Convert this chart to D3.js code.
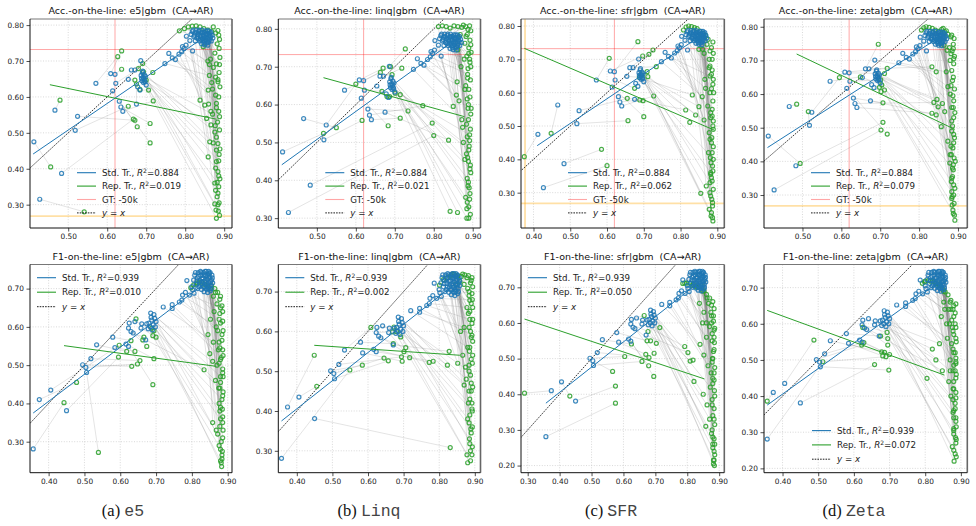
<!DOCTYPE html>
<html><head><meta charset="utf-8">
<script src="https://cdn.jsdelivr.net/npm/d3@7"></script>
<style>
body{margin:0;background:#fff;}
svg text{font-family:"DejaVu Sans",sans-serif;}
</style></head><body>
<svg id="fig" width="976" height="526"></svg>
<script>
// ---- data ----
// blue = standard training, one list per row, shared by the 4 panels of that row
const blueAcc = [
 [0.412,0.475],[0.427,0.315],[0.466,0.563],[0.483,0.387],[0.518,0.507],[0.524,0.546],[0.571,0.638],[0.609,0.665],[0.620,0.663],[0.614,0.617],[0.622,0.638],
 [0.631,0.588],[0.635,0.572],[0.640,0.560],[0.654,0.649],[0.662,0.675],[0.671,0.675],[0.675,0.580],[0.678,0.628],[0.686,0.701],[0.684,0.619],[0.697,0.642],
 [0.687,0.660],[0.690,0.668],[0.692,0.655],[0.694,0.650],[0.689,0.645],[0.695,0.662],[0.698,0.657],[0.700,0.633],[0.691,0.672],[0.696,0.645],[0.688,0.652],[0.693,0.640],
 [0.748,0.693],[0.758,0.721],[0.767,0.709],[0.775,0.704],[0.784,0.719],[0.791,0.726],[0.797,0.735],[0.802,0.744],[0.793,0.740],[0.803,0.769],[0.819,0.728],[0.812,0.757],
 [0.815,0.774],[0.818,0.782],[0.822,0.768],[0.825,0.778],[0.828,0.786],[0.830,0.764],[0.833,0.774],[0.835,0.782],[0.837,0.756],[0.839,0.768],[0.841,0.778],[0.843,0.786],
 [0.845,0.762],[0.846,0.772],[0.848,0.750],[0.849,0.780],[0.851,0.766],[0.853,0.758],[0.854,0.776],[0.856,0.784],[0.857,0.764],[0.859,0.752],[0.860,0.772],[0.862,0.760],
 [0.863,0.778],[0.865,0.766],[0.867,0.756],[0.869,0.772],[0.850,0.745],[0.842,0.748],[0.834,0.762],[0.826,0.756],[0.858,0.744],[0.871,0.764],
 [0.820,0.786],[0.824,0.772],[0.829,0.780],[0.832,0.768],[0.836,0.786],[0.838,0.772],[0.840,0.760],[0.844,0.780],[0.847,0.768],[0.849,0.756],
 [0.852,0.784],[0.853,0.772],[0.855,0.750],[0.857,0.776],[0.861,0.784],[0.861,0.756],[0.864,0.770],[0.866,0.780],[0.846,0.756],[0.851,0.762]
];
const blueF1 = [
 [0.357,0.281],[0.374,0.410],[0.406,0.435],[0.450,0.381],[0.495,0.501],[0.504,0.494],[0.506,0.481],[0.518,0.517],[0.534,0.553],[0.579,0.573],[0.585,0.546],
 [0.616,0.555],[0.623,0.549],[0.625,0.610],[0.623,0.597],[0.630,0.588],[0.636,0.584],[0.641,0.614],[0.660,0.608],[0.658,0.597],[0.671,0.566],[0.674,0.608],
 [0.685,0.636],[0.694,0.632],[0.700,0.614],[0.680,0.610],[0.688,0.618],[0.692,0.605],[0.684,0.600],[0.696,0.622],[0.678,0.595],[0.690,0.592],[0.698,0.600],[0.686,0.625],
 [0.720,0.652],[0.745,0.658],[0.745,0.648],[0.765,0.665],[0.772,0.670],[0.774,0.683],[0.793,0.683],[0.802,0.697],[0.786,0.721],[0.782,0.690],[0.800,0.705],[0.806,0.688],
 [0.805,0.722],[0.808,0.735],[0.812,0.712],[0.815,0.728],[0.818,0.742],[0.820,0.705],[0.822,0.720],[0.825,0.735],[0.827,0.698],[0.829,0.712],[0.831,0.728],[0.833,0.742],
 [0.835,0.705],[0.836,0.720],[0.838,0.734],[0.840,0.745],[0.841,0.710],[0.843,0.724],[0.845,0.738],[0.846,0.700],[0.848,0.716],[0.850,0.730],[0.851,0.742],[0.853,0.708],
 [0.855,0.722],[0.856,0.735],[0.834,0.692],[0.844,0.690],[0.824,0.745],[0.847,0.745],[0.858,0.715],[0.816,0.700],[0.839,0.700],[0.852,0.695],
 [0.810,0.742],[0.814,0.720],[0.819,0.732],[0.823,0.712],[0.826,0.742],[0.828,0.725],[0.832,0.704],[0.834,0.735],[0.837,0.745],[0.839,0.716],
 [0.842,0.732],[0.844,0.705],[0.847,0.728],[0.849,0.740],[0.852,0.718],[0.854,0.700],[0.857,0.728],[0.842,0.697],[0.830,0.718],[0.848,0.710]
];

// green = representation training, same order as the blue list (pairs are joined by grey lines)
const greenAccE5 = [
 [0.455,0.405],[0.541,0.280],[0.479,0.591],[0.667,0.538],[0.654,0.574],[0.671,0.535],[0.627,0.712],[0.637,0.728],[0.637,0.677],[0.677,0.517],[0.680,0.679],
 [0.710,0.472],[0.710,0.526],[0.718,0.589],[0.671,0.647],[0.691,0.693],[0.693,0.670],[0.675,0.636],[0.684,0.621],[0.717,0.668],[0.706,0.619],[0.700,0.647],
 [0.870,0.552],[0.876,0.502],[0.880,0.452],[0.878,0.402],[0.882,0.362],[0.884,0.332],[0.876,0.302],[0.885,0.282],[0.872,0.472],[0.886,0.422],[0.866,0.522],[0.880,0.262],
 [0.862,0.660],[0.870,0.622],[0.859,0.619],[0.880,0.582],[0.850,0.577],[0.884,0.642],[0.858,0.700],[0.872,0.682],[0.838,0.591],[0.855,0.540],[0.863,0.475],[0.859,0.433],
 [0.785,0.784],[0.798,0.790],[0.808,0.795],[0.818,0.797],[0.828,0.798],[0.838,0.795],[0.848,0.790],[0.858,0.786],[0.868,0.782],[0.878,0.778],[0.886,0.772],[0.888,0.760],
 [0.882,0.748],[0.887,0.735],[0.876,0.722],[0.889,0.710],[0.880,0.692],[0.887,0.668],[0.884,0.648],[0.889,0.628],[0.878,0.605],[0.886,0.560],[0.883,0.530],[0.888,0.508],
 [0.880,0.488],[0.887,0.440],[0.884,0.392],[0.889,0.372],[0.886,0.350],[0.882,0.322],[0.887,0.305],[0.879,0.285],[0.846,0.740],[0.865,0.705],
 [0.872,0.795],[0.884,0.785],[0.862,0.690],[0.888,0.690],[0.878,0.655],[0.868,0.640],[0.886,0.600],[0.880,0.570],[0.888,0.545],[0.877,0.520],
 [0.884,0.470],[0.889,0.455],[0.880,0.420],[0.886,0.380],[0.878,0.340],[0.884,0.300],[0.888,0.270],[0.876,0.360],[0.860,0.580],[0.866,0.560]
];
const greenAccLinq = [
 [0.517,0.524],[0.800,0.518],[0.550,0.539],[0.796,0.551],[0.616,0.558],[0.600,0.654],[0.663,0.685],[0.670,0.696],[0.689,0.700],[0.683,0.544],[0.667,0.635],
 [0.734,0.583],[0.772,0.597],[0.714,0.564],[0.680,0.621],[0.693,0.679],[0.718,0.696],[0.838,0.506],[0.687,0.621],[0.727,0.747],[0.714,0.626],[0.701,0.630],
 [0.842,0.318],[0.861,0.315],[0.885,0.300],[0.890,0.330],[0.882,0.355],[0.891,0.380],[0.886,0.405],[0.893,0.430],[0.880,0.455],[0.890,0.480],[0.876,0.500],[0.892,0.520],
 [0.872,0.560],[0.888,0.590],[0.865,0.610],[0.880,0.640],[0.860,0.660],[0.887,0.680],[0.870,0.700],[0.892,0.720],[0.858,0.625],[0.874,0.540],[0.884,0.470],[0.850,0.595],
 [0.812,0.806],[0.822,0.808],[0.832,0.806],[0.842,0.802],[0.852,0.808],[0.862,0.806],[0.872,0.804],[0.882,0.806],[0.892,0.808],[0.895,0.795],[0.886,0.785],[0.893,0.770],
 [0.880,0.762],[0.890,0.750],[0.896,0.738],[0.885,0.728],[0.893,0.712],[0.888,0.695],[0.894,0.665],[0.882,0.650],[0.893,0.620],[0.889,0.600],[0.895,0.575],[0.884,0.548],
 [0.892,0.505],[0.887,0.460],[0.894,0.440],[0.889,0.395],[0.893,0.365],[0.886,0.342],[0.894,0.310],[0.878,0.720],[0.868,0.785],[0.862,0.745],
 [0.876,0.810],[0.888,0.798],[0.883,0.780],[0.895,0.758],[0.890,0.735],[0.895,0.700],[0.887,0.670],[0.890,0.640],[0.886,0.615],[0.896,0.590],
 [0.889,0.560],[0.894,0.535],[0.886,0.515],[0.891,0.490],[0.889,0.450],[0.895,0.420],[0.888,0.385],[0.892,0.350],[0.885,0.325],[0.890,0.300]
];
const greenAccSfr = [
 [0.375,0.408],[0.600,0.381],[0.448,0.478],[0.585,0.430],[0.657,0.516],[0.655,0.583],[0.606,0.703],[0.697,0.710],[0.684,0.753],[0.700,0.528],[0.675,0.613],
 [0.698,0.576],[0.689,0.578],[0.727,0.590],[0.688,0.646],[0.714,0.715],[0.734,0.678],[0.814,0.548],[0.711,0.648],[0.725,0.728],[0.709,0.663],[0.695,0.653],
 [0.825,0.511],[0.841,0.533],[0.850,0.558],[0.864,0.518],[0.832,0.593],[0.855,0.298],[0.880,0.330],[0.885,0.280],[0.878,0.250],[0.887,0.225],[0.882,0.360],[0.889,0.400],
 [0.859,0.588],[0.868,0.613],[0.880,0.650],[0.874,0.560],[0.886,0.530],[0.878,0.480],[0.884,0.450],[0.876,0.420],[0.888,0.500],[0.880,0.680],[0.866,0.640],[0.890,0.600],
 [0.808,0.788],[0.815,0.797],[0.822,0.800],[0.830,0.798],[0.838,0.795],[0.845,0.792],[0.852,0.785],[0.860,0.778],[0.868,0.772],[0.875,0.760],[0.888,0.752],[0.884,0.735],
 [0.889,0.718],[0.864,0.718],[0.878,0.700],[0.886,0.668],[0.889,0.640],[0.884,0.612],[0.888,0.575],[0.882,0.540],[0.889,0.515],[0.885,0.465],[0.889,0.438],[0.883,0.390],
 [0.888,0.365],[0.884,0.345],[0.889,0.310],[0.882,0.290],[0.887,0.270],[0.884,0.240],[0.888,0.215],[0.870,0.320],[0.860,0.730],[0.850,0.730],
 [0.862,0.770],[0.872,0.745],[0.880,0.725],[0.886,0.700],[0.878,0.675],[0.884,0.655],[0.888,0.625],[0.880,0.600],[0.886,0.550],[0.882,0.525],
 [0.889,0.490],[0.880,0.460],[0.886,0.420],[0.881,0.405],[0.887,0.380],[0.882,0.355],[0.886,0.335],[0.880,0.300],[0.887,0.260],[0.883,0.230]
];
const greenAccZeta = [
 [0.494,0.394],[0.702,0.493],[0.485,0.570],[0.707,0.516],[0.515,0.548],[0.595,0.649],[0.649,0.651],[0.718,0.676],[0.711,0.661],[0.718,0.481],[0.701,0.642],
 [0.707,0.574],[0.838,0.575],[0.833,0.543],[0.704,0.627],[0.695,0.748],[0.833,0.681],[0.844,0.538],[0.698,0.620],[0.844,0.666],[0.702,0.607],[0.711,0.612],
 [0.846,0.584],[0.849,0.562],[0.860,0.572],[0.866,0.548],[0.857,0.503],[0.874,0.460],[0.880,0.420],[0.886,0.380],[0.883,0.340],[0.889,0.300],[0.885,0.270],[0.891,0.240],
 [0.870,0.666],[0.874,0.622],[0.880,0.600],[0.888,0.560],[0.884,0.520],[0.889,0.480],[0.882,0.445],[0.890,0.410],[0.879,0.395],[0.886,0.355],[0.892,0.320],[0.884,0.290],
 [0.806,0.790],[0.812,0.797],[0.818,0.800],[0.826,0.798],[0.834,0.795],[0.842,0.790],[0.850,0.786],[0.858,0.792],[0.866,0.785],[0.874,0.778],[0.882,0.770],[0.890,0.765],
 [0.888,0.748],[0.878,0.738],[0.885,0.728],[0.891,0.712],[0.880,0.700],[0.889,0.690],[0.886,0.640],[0.891,0.615],[0.889,0.580],[0.892,0.545],[0.886,0.505],[0.891,0.470],
 [0.887,0.440],[0.893,0.400],[0.888,0.375],[0.884,0.310],[0.890,0.275],[0.887,0.255],[0.892,0.225],[0.864,0.745],[0.854,0.772],[0.872,0.730],
 [0.862,0.795],[0.870,0.788],[0.884,0.775],[0.888,0.735],[0.882,0.720],[0.889,0.705],[0.884,0.670],[0.888,0.650],[0.882,0.625],[0.887,0.595],
 [0.884,0.560],[0.889,0.530],[0.884,0.490],[0.889,0.455],[0.883,0.420],[0.888,0.390],[0.884,0.350],[0.889,0.330],[0.885,0.295],[0.888,0.245]
];
const greenF1E5 = [
 [0.443,0.402],[0.478,0.455],[0.597,0.552],[0.595,0.521],[0.632,0.497],[0.648,0.503],[0.539,0.272],[0.655,0.512],[0.618,0.536],[0.630,0.564],[0.641,0.536],
 [0.694,0.517],[0.691,0.449],[0.644,0.621],[0.663,0.566],[0.674,0.549],[0.666,0.573],[0.688,0.597],[0.694,0.590],[0.700,0.573],[0.834,0.488],[0.691,0.577],
 [0.870,0.500],[0.880,0.470],[0.875,0.440],[0.884,0.410],[0.878,0.380],[0.886,0.350],[0.872,0.320],[0.882,0.300],[0.885,0.275],[0.880,0.250],[0.883,0.235],[0.866,0.460],
 [0.860,0.560],[0.874,0.540],[0.882,0.520],[0.868,0.600],[0.884,0.580],[0.876,0.620],[0.880,0.650],[0.850,0.530],[0.858,0.510],[0.886,0.480],[0.845,0.580],[0.862,0.640],
 [0.797,0.702],[0.805,0.710],[0.813,0.712],[0.820,0.716],[0.827,0.717],[0.835,0.712],[0.845,0.705],[0.855,0.708],[0.864,0.700],[0.872,0.690],[0.860,0.680],[0.878,0.672],
 [0.870,0.660],[0.884,0.655],[0.878,0.635],[0.886,0.615],[0.872,0.590],[0.884,0.565],[0.878,0.545],[0.887,0.525],[0.876,0.505],[0.886,0.490],[0.880,0.455],[0.887,0.430],
 [0.876,0.400],[0.885,0.385],[0.880,0.360],[0.887,0.330],[0.876,0.290],[0.884,0.265],[0.882,0.245],[0.868,0.330],[0.858,0.350],[0.852,0.620],
 [0.815,0.715],[0.838,0.710],[0.852,0.700],[0.866,0.690],[0.880,0.680],[0.886,0.640],[0.880,0.610],[0.887,0.590],[0.876,0.560],[0.886,0.540],
 [0.880,0.515],[0.887,0.470],[0.878,0.440],[0.886,0.420],[0.880,0.390],[0.886,0.365],[0.878,0.340],[0.886,0.310],[0.880,0.280],[0.884,0.255]
];
const greenF1Linq = [
 [0.549,0.503],[0.449,0.540],[0.456,0.462],[0.831,0.308],[0.584,0.515],[0.645,0.533],[0.657,0.526],[0.694,0.536],[0.608,0.610],[0.671,0.569],[0.696,0.525],
 [0.772,0.522],[0.783,0.525],[0.673,0.611],[0.669,0.599],[0.701,0.549],[0.706,0.559],[0.680,0.600],[0.692,0.586],[0.717,0.534],[0.828,0.550],[0.823,0.515],
 [0.876,0.480],[0.890,0.450],[0.882,0.420],[0.893,0.400],[0.880,0.380],[0.889,0.355],[0.885,0.330],[0.893,0.310],[0.878,0.290],[0.888,0.275],[0.870,0.465],[0.884,0.500],
 [0.880,0.560],[0.892,0.590],[0.870,0.610],[0.886,0.630],[0.878,0.660],[0.893,0.680],[0.884,0.700],[0.860,0.600],[0.866,0.540],[0.852,0.520],[0.874,0.510],[0.890,0.530],
 [0.801,0.716],[0.812,0.730],[0.822,0.735],[0.832,0.740],[0.842,0.744],[0.852,0.740],[0.862,0.738],[0.872,0.742],[0.882,0.740],[0.892,0.735],[0.888,0.722],[0.894,0.712],
 [0.880,0.708],[0.892,0.695],[0.886,0.678],[0.894,0.660],[0.882,0.645],[0.892,0.620],[0.888,0.600],[0.894,0.575],[0.885,0.550],[0.893,0.520],[0.888,0.490],[0.894,0.460],
 [0.886,0.430],[0.892,0.405],[0.884,0.370],[0.890,0.345],[0.886,0.318],[0.892,0.290],[0.880,0.270],[0.870,0.718],[0.858,0.725],[0.846,0.718],
 [0.836,0.744],[0.846,0.740],[0.866,0.744],[0.878,0.735],[0.890,0.728],[0.884,0.690],[0.890,0.670],[0.886,0.650],[0.894,0.630],[0.884,0.610],
 [0.890,0.585],[0.886,0.560],[0.894,0.540],[0.884,0.515],[0.890,0.470],[0.884,0.450],[0.892,0.420],[0.886,0.390],[0.893,0.360],[0.888,0.300]
];
const greenF1Sfr = [
 [0.575,0.375],[0.290,0.403],[0.432,0.395],[0.575,0.423],[0.604,0.506],[0.566,0.464],[0.658,0.492],[0.680,0.503],[0.625,0.541],[0.674,0.550],[0.670,0.512],
 [0.679,0.480],[0.695,0.450],[0.665,0.621],[0.677,0.576],[0.685,0.550],[0.696,0.515],[0.714,0.587],[0.703,0.543],[0.792,0.534],[0.802,0.517],[0.809,0.493],
 [0.818,0.496],[0.821,0.436],[0.850,0.400],[0.862,0.370],[0.870,0.330],[0.858,0.310],[0.876,0.290],[0.880,0.260],[0.884,0.240],[0.882,0.215],[0.885,0.200],[0.872,0.420],
 [0.840,0.540],[0.852,0.510],[0.865,0.480],[0.875,0.460],[0.860,0.560],[0.882,0.520],[0.870,0.590],[0.884,0.560],[0.848,0.600],[0.876,0.620],[0.884,0.440],[0.880,0.500],
 [0.786,0.711],[0.798,0.712],[0.808,0.712],[0.818,0.708],[0.826,0.704],[0.835,0.700],[0.844,0.705],[0.852,0.690],[0.860,0.680],[0.870,0.670],[0.880,0.660],[0.866,0.655],
 [0.884,0.640],[0.874,0.630],[0.882,0.605],[0.886,0.585],[0.878,0.570],[0.885,0.545],[0.879,0.500],[0.886,0.475],[0.880,0.445],[0.885,0.410],[0.878,0.385],[0.884,0.360],
 [0.880,0.340],[0.886,0.315],[0.878,0.300],[0.884,0.275],[0.880,0.250],[0.886,0.230],[0.882,0.205],[0.852,0.630],[0.838,0.655],[0.860,0.600],
 [0.792,0.712],[0.815,0.705],[0.830,0.700],[0.848,0.690],[0.862,0.670],[0.876,0.650],[0.882,0.620],[0.876,0.600],[0.884,0.580],[0.878,0.550],
 [0.884,0.525],[0.878,0.490],[0.884,0.460],[0.880,0.430],[0.886,0.395],[0.878,0.370],[0.884,0.330],[0.880,0.280],[0.886,0.260],[0.884,0.215]
];
const greenF1Zeta = [
 [0.513,0.495],[0.357,0.386],[0.488,0.555],[0.658,0.487],[0.622,0.541],[0.690,0.509],[0.698,0.472],[0.628,0.548],[0.678,0.522],[0.675,0.566],[0.681,0.511],
 [0.686,0.521],[0.700,0.515],[0.625,0.590],[0.693,0.576],[0.695,0.559],[0.695,0.541],[0.820,0.530],[0.830,0.500],[0.805,0.449],[0.848,0.470],[0.840,0.545],
 [0.866,0.440],[0.878,0.420],[0.872,0.400],[0.884,0.380],[0.878,0.355],[0.886,0.330],[0.880,0.305],[0.887,0.280],[0.876,0.260],[0.884,0.240],[0.881,0.220],[0.870,0.470],
 [0.862,0.560],[0.874,0.545],[0.884,0.520],[0.870,0.500],[0.886,0.490],[0.860,0.600],[0.880,0.620],[0.872,0.640],[0.886,0.655],[0.855,0.640],[0.884,0.470],[0.876,0.590],
 [0.792,0.712],[0.800,0.718],[0.810,0.720],[0.820,0.718],[0.830,0.712],[0.840,0.705],[0.848,0.696],[0.856,0.688],[0.864,0.680],[0.872,0.665],[0.880,0.650],[0.866,0.640],
 [0.884,0.630],[0.874,0.610],[0.886,0.590],[0.880,0.570],[0.887,0.550],[0.878,0.530],[0.886,0.505],[0.880,0.485],[0.887,0.460],[0.880,0.440],[0.886,0.410],[0.878,0.390],
 [0.884,0.365],[0.880,0.340],[0.887,0.315],[0.880,0.295],[0.886,0.270],[0.880,0.250],[0.887,0.232],[0.852,0.660],[0.845,0.620],[0.868,0.600],
 [0.798,0.716],[0.815,0.718],[0.826,0.716],[0.836,0.710],[0.852,0.690],[0.870,0.660],[0.878,0.640],[0.884,0.600],[0.878,0.580],[0.886,0.560],
 [0.880,0.520],[0.886,0.495],[0.878,0.470],[0.886,0.450],[0.880,0.420],[0.886,0.395],[0.880,0.360],[0.886,0.340],[0.880,0.310],[0.885,0.285]
];

// fitted lines: [x0, y0, x1, y1]
const stdFitAcc = [0.410, 0.441, 0.862, 0.776];
const stdFitF1 = [0.357, 0.375, 0.856, 0.728];
const repFits = {
  accE5: [0.453, 0.634, 0.880, 0.538], accLinq: [0.517, 0.671, 0.879, 0.568],
  accSfr: [0.375, 0.733, 0.891, 0.488], accZeta: [0.485, 0.719, 0.892, 0.495],
  f1E5: [0.443, 0.551, 0.867, 0.497], f1Linq: [0.449, 0.565, 0.858, 0.540],
  f1Sfr: [0.290, 0.611, 0.854, 0.443], f1Zeta: [0.357, 0.637, 0.854, 0.458]
};
const r2Std = ["0.884", "0.884", "0.884", "0.884", "0.939", "0.939", "0.939", "0.939"];
const r2Rep = ["0.019", "0.021", "0.062", "0.079", "0.010", "0.002", "0.050", "0.072"];
const gtRed = [0.62, 0.732];      // GT: -50k
const gtOrange = [0.377, 0.268];

const methods = ["e5", "linq", "sfr", "zeta"];
const captionLabels = ["(a) ", "(b) ", "(c) ", "(d) "];
const captionNames = ["e5", "Linq", "SFR", "Zeta"];

// axis limits and ticks per panel (row-major)
const xDomains = [[0.402,0.920],[0.401,0.920],[0.366,0.919],[0.401,0.924],
                  [0.348,0.912],[0.348,0.916],[0.279,0.916],[0.348,0.918]];
const yDomains = [[0.235,0.817],[0.274,0.826],[0.194,0.821],[0.202,0.823],
                  [0.219,0.763],[0.245,0.768],[0.180,0.764],[0.188,0.764]];
const xTicks = [[0.5,0.6,0.7,0.8,0.9],[0.5,0.6,0.7,0.8,0.9],[0.4,0.5,0.6,0.7,0.8,0.9],[0.5,0.6,0.7,0.8,0.9],
                [0.4,0.5,0.6,0.7,0.8,0.9],[0.4,0.5,0.6,0.7,0.8,0.9],[0.3,0.4,0.5,0.6,0.7,0.8,0.9],[0.4,0.5,0.6,0.7,0.8,0.9]];
const yTicksTop = [0.3,0.4,0.5,0.6,0.7,0.8];
const yTicksBot = [0.2,0.3,0.4,0.5,0.6,0.7];

// ---- layout ----
const colLeft = [30, 278.3, 521, 764];
const colRight = [232, 480.5, 724.3, 967.3];
const rowTop = [19, 264.5];
const rowBottom = [228, 472.7];
const captionX = [123, 369, 611, 854];
const BLUE = "#1f77b4", GREEN = "#2ca02c";

const greens = [greenAccE5, greenAccLinq, greenAccSfr, greenAccZeta, greenF1E5, greenF1Linq, greenF1Sfr, greenF1Zeta];
const repKeys = ["accE5","accLinq","accSfr","accZeta","f1E5","f1Linq","f1Sfr","f1Zeta"];

const svg = d3.select("#fig");
const fmt = d3.format(".2f");

greens.forEach((green, k) => {
  const row = Math.floor(k / 4), col = k % 4;
  const L = colLeft[col], R = colRight[col], T = rowTop[row], B = rowBottom[row];
  const blue = row === 0 ? blueAcc : blueF1;
  const x = d3.scaleLinear().domain(xDomains[k]).range([L, R]);
  const y = d3.scaleLinear().domain(yDomains[k]).range([B, T]);
  const yt = (row === 0 ? yTicksTop : yTicksBot).filter(v => v >= yDomains[k][0] && v <= yDomains[k][1]);

  const g = svg.append("g");
  const clipId = "clip" + k;
  g.append("clipPath").attr("id", clipId).append("rect")
    .attr("x", L).attr("y", T).attr("width", R - L).attr("height", B - T);

  // grid
  const grid = g.append("g").attr("stroke", "#c8c8c8").attr("stroke-width", 0.7).attr("stroke-dasharray", "1,1.6");
  xTicks[k].forEach(v => grid.append("line").attr("x1", x(v)).attr("x2", x(v)).attr("y1", T).attr("y2", B));
  yt.forEach(v => grid.append("line").attr("x1", L).attr("x2", R).attr("y1", y(v)).attr("y2", y(v)));

  const plot = g.append("g").attr("clip-path", `url(#${clipId})`);

  // grey lines joining each pair
  plot.append("g").selectAll("line").data(blue).join("line")
    .attr("x1", d => x(d[0])).attr("y1", d => y(d[1]))
    .attr("x2", (d, i) => x(green[i][0])).attr("y2", (d, i) => y(green[i][1]))
    .attr("stroke", "#808080").attr("stroke-opacity", 0.36).attr("stroke-width", 0.6);

  // ground-truth guides (top row only)
  if (row === 0) {
    [[gtOrange, "#ffa500", 1.8, 0.35], [gtRed, "#ff0000", 1, 0.35]].forEach(([p, c, w, o]) => {
      plot.append("line").attr("x1", x(p[0])).attr("x2", x(p[0])).attr("y1", T).attr("y2", B)
        .attr("stroke", c).attr("stroke-width", w).attr("stroke-opacity", o);
      plot.append("line").attr("x1", L).attr("x2", R).attr("y1", y(p[1])).attr("y2", y(p[1]))
        .attr("stroke", c).attr("stroke-width", w).attr("stroke-opacity", o);
    });
  }

  // y = x
  const lo = Math.min(xDomains[k][0], yDomains[k][0]), hi = Math.max(xDomains[k][1], yDomains[k][1]);
  plot.append("line").attr("x1", x(lo)).attr("y1", y(lo)).attr("x2", x(hi)).attr("y2", y(hi))
    .attr("stroke", "#000").attr("stroke-width", 0.8).attr("stroke-dasharray", "1.6,1.1");

  // points
  plot.append("g").selectAll("circle").data(green).join("circle")
    .attr("cx", d => x(d[0])).attr("cy", d => y(d[1])).attr("r", 2.0)
    .attr("fill", "none").attr("stroke", GREEN).attr("stroke-width", 1.2).attr("stroke-opacity", 0.85);
  plot.append("g").selectAll("circle").data(blue).join("circle")
    .attr("cx", d => x(d[0])).attr("cy", d => y(d[1])).attr("r", 2.0)
    .attr("fill", "none").attr("stroke", BLUE).attr("stroke-width", 1.2).attr("stroke-opacity", 0.85);

  // fitted lines
  const sf = row === 0 ? stdFitAcc : stdFitF1, rf = repFits[repKeys[k]];
  plot.append("line").attr("x1", x(sf[0])).attr("y1", y(sf[1])).attr("x2", x(sf[2])).attr("y2", y(sf[3]))
    .attr("stroke", BLUE).attr("stroke-width", 1);
  plot.append("line").attr("x1", x(rf[0])).attr("y1", y(rf[1])).attr("x2", x(rf[2])).attr("y2", y(rf[3]))
    .attr("stroke", GREEN).attr("stroke-width", 1);

  // axes
  const ax = g.append("g").attr("transform", `translate(0,${B})`)
    .call(d3.axisBottom(x).tickValues(xTicks[k]).tickFormat(fmt).tickSize(3.5).tickPadding(2.5));
  const ay = g.append("g").attr("transform", `translate(${L},0)`)
    .call(d3.axisLeft(y).tickValues(yt).tickFormat(fmt).tickSize(3.5).tickPadding(2.5));
  [ax, ay].forEach(a => {
    a.select(".domain").remove();
    a.selectAll("text").attr("font-size", 7.4).attr("fill", "#222").style("font-family", "DejaVu Sans");
    a.selectAll("line").attr("stroke", "#222").attr("stroke-width", 0.8);
  });

  // spines
  g.append("line").attr("x1", L).attr("x2", R).attr("y1", T).attr("y2", T).attr("stroke", "#777").attr("stroke-width", 1);
  g.append("line").attr("x1", R).attr("x2", R).attr("y1", T).attr("y2", B).attr("stroke", "#666").attr("stroke-width", 1.6);
  g.append("line").attr("x1", L).attr("x2", L).attr("y1", T).attr("y2", B).attr("stroke", "#111").attr("stroke-width", 1);
  g.append("line").attr("x1", L).attr("x2", R).attr("y1", B).attr("y2", B).attr("stroke", "#111").attr("stroke-width", 1);

  // title
  g.append("text").attr("x", (L + R) / 2).attr("y", T - 5).attr("text-anchor", "middle")
    .attr("font-size", 9.5).attr("fill", "#111").style("white-space", "pre")
    .text((row === 0 ? "Acc." : "F1") + "-on-the-line: " + methods[col] + "|gbm  (CA\u2192AR)");

  // legend
  const entries = [
    {c: BLUE, name: "Std. Tr., ", r2: r2Std[k]},
    {c: GREEN, name: "Rep. Tr., ", r2: r2Rep[k]}
  ];
  if (row === 0) entries.push({c: "#ff0000", o: 0.35, gt: true});
  entries.push({c: "#000", dash: true});
  let lx, ly, dy;
  if (row === 0) { lx = L + 47; ly = 172.7; dy = 13.4; }
  else if (col === 3) { lx = L + 48; ly = 430.6; dy = 14.3; }
  else { lx = L + 7; ly = 277.7; dy = 14.5; }
  const leg = g.append("g");
  entries.forEach((e, i) => {
    const yy = ly + i * dy;
    leg.append("line").attr("x1", lx).attr("x2", lx + 19).attr("y1", yy).attr("y2", yy)
      .attr("stroke", e.c).attr("stroke-width", e.dash ? 0.9 : 1.1)
      .attr("stroke-opacity", e.o || 1).attr("stroke-dasharray", e.dash ? "1.6,1.1" : null);
    const t = leg.append("text").attr("x", lx + 25).attr("y", yy + 3.1).attr("font-size", 8.7).attr("fill", "#222");
    if (e.r2) {
      t.append("tspan").text(e.name);
      t.append("tspan").attr("font-style", "italic").text("R");
      t.append("tspan").attr("font-size", 6).attr("dy", -3.2).text("2");
      t.append("tspan").attr("dy", 3.2).text("=" + e.r2);
    } else if (e.gt) {
      t.text("GT: -50k");
    } else {
      t.append("tspan").attr("font-style", "italic").text("y");
      t.append("tspan").text(" = ");
      t.append("tspan").attr("font-style", "italic").text("x");
    }
  });
});

// sub-captions
captionLabels.forEach((lab, i) => {
  const t = svg.append("text").attr("x", captionX[i]).attr("y", 516).attr("text-anchor", "middle").attr("fill", "#111");
  t.append("tspan").style("font-family", "'Liberation Serif','DejaVu Serif',serif").attr("font-size", 16.5).style("white-space", "pre").text(lab);
  t.append("tspan").style("font-family", "'Liberation Mono','DejaVu Sans Mono',monospace").attr("font-size", 16.5)
    .attr("fill", "#444").text(captionNames[i]);
});
</script>
</body></html>
